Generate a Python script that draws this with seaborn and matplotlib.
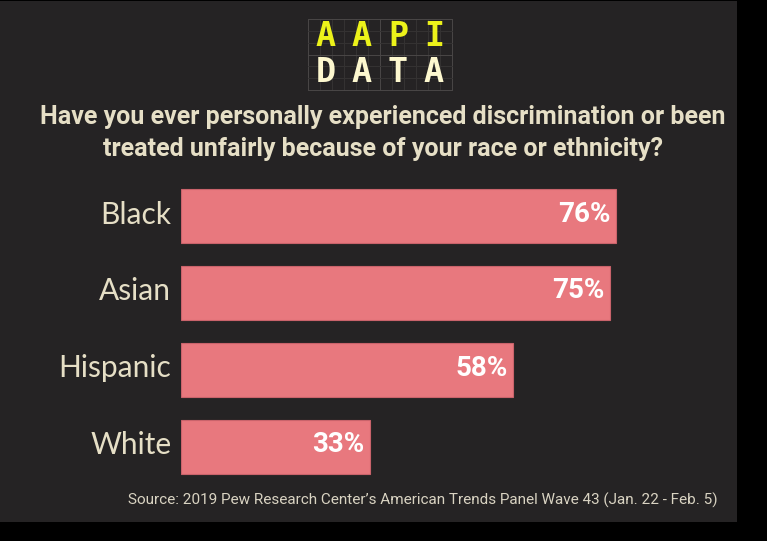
"""Discriminacion por raza/etnia - grafico de barras horizontales (AAPI Data)."""
import matplotlib.pyplot as plt
import matplotlib.transforms as mtransforms
import pandas as pd
import seaborn as sns
from matplotlib.patches import Rectangle

GRUPOS = ["Black", "Asian", "Hispanic", "White"]
PORCENTAJES = [76, 75, 58, 33]

TITULO = ("Have you ever personally experienced discrimination or been\n"
          "treated unfairly because of your race or ethnicity?")
FUENTE = ("Source: 2019 Pew Research Center\u2019s American Trends Panel "
          "Wave 43 (Jan. 22 - Feb. 5)")
LOGO_ARRIBA = ["A", "A", "P", "I"]
LOGO_ABAJO = ["D", "A", "T", "A"]

FONDO = "#252324"
CREMA = "#e6dfc6"
ROSA = "#e8787e"
AMARILLO = "#ecf21a"
CREMA_LOGO = "#fdf8cf"
ANGOSTA = ["Roboto", "DejaVu Sans"]

W, H = 767, 541


def fx(px):
    return px / W


def fy(py):
    return 1 - py / H


def main():
    sns.set_theme(style="white")
    datos = pd.DataFrame({"grupo": GRUPOS, "pct": PORCENTAJES})

    fig = plt.figure(figsize=(W / 100, H / 100), dpi=100, facecolor="black")
    fig.patches.append(Rectangle(
        (0, fy(522)), fx(737), 521 / H, transform=fig.transFigure,
        facecolor=FONDO, edgecolor="none", zorder=-5,
    ))

    # logo con cuadricula
    x0, x1, y0, y1 = 308, 452, 19, 90
    for i in range(13):
        xx = x0 + i * 12
        c = "#4a4747" if i in (0, 6, 12) else "#353333"
        fig.add_artist(plt.Line2D([fx(xx), fx(xx)], [fy(y0), fy(y1)],
                                  color=c, lw=0.7, transform=fig.transFigure))
    for j in range(7):
        yy = y0 + j * (y1 - y0) / 6
        c = "#4a4747" if j in (0, 3, 6) else "#353333"
        fig.add_artist(plt.Line2D([fx(x0), fx(x1)], [fy(yy), fy(yy)],
                                  color=c, lw=0.7, transform=fig.transFigure))
    for k, (a, b) in enumerate(zip(LOGO_ARRIBA, LOGO_ABAJO)):
        cx = x0 + 18 + 36 * k
        fig.text(fx(cx), fy(37), a, ha="center", va="center",
                 fontsize=24, fontweight="bold", color=AMARILLO,
                 family="DejaVu Sans Mono")
        fig.text(fx(cx), fy(72), b, ha="center", va="center",
                 fontsize=24, fontweight="bold", color=CREMA_LOGO,
                 family="DejaVu Sans Mono")

    fig.text(fx(383), fy(133), TITULO, ha="center", va="center",
             fontsize=18, fontweight="bold", color=CREMA, family=ANGOSTA,
             linespacing=1.45)

    ax = fig.add_axes([fx(181), fy(485.5), 572 / W, 308 / H])
    ax.set_facecolor("none")
    sns.barplot(data=datos, y="grupo", x="pct", orient="h", color=ROSA,
                saturation=1, width=0.7, edgecolor="#c9636b", linewidth=0.8,
                ax=ax)
    arriba = mtransforms.ScaledTranslation(0, 4 / 100, fig.dpi_scale_trans)
    arriba_poco = mtransforms.ScaledTranslation(0, 2 / 100,
                                                fig.dpi_scale_trans)
    for i, v in enumerate(PORCENTAJES):
        ax.text(v - 0.9, i, f"{v}%", ha="right", va="center",
                fontsize=20, fontweight="bold", color="white",
                family=ANGOSTA, transform=ax.transData + arriba_poco)
    ax.set_xlim(0, 100)
    ax.set_ylim(3.5, -0.5)
    ax.set_xlabel("")
    ax.set_ylabel("")
    ax.set_xticks([])
    sns.despine(ax=ax, left=True, bottom=True)
    ax.tick_params(axis="y", length=0, pad=7, labelsize=21.5,
                   labelcolor=CREMA)
    for t in ax.get_yticklabels():
        t.set_family(["Lato", "DejaVu Sans"])
        t.set_transform(t.get_transform() + arriba)

    fig.text(fx(718), fy(500), FUENTE, ha="right", va="center",
             fontsize=11, color="#d9d3c2", family=ANGOSTA)

    fig.savefig("out.png", dpi=100, facecolor="black")


if __name__ == "__main__":
    main()
